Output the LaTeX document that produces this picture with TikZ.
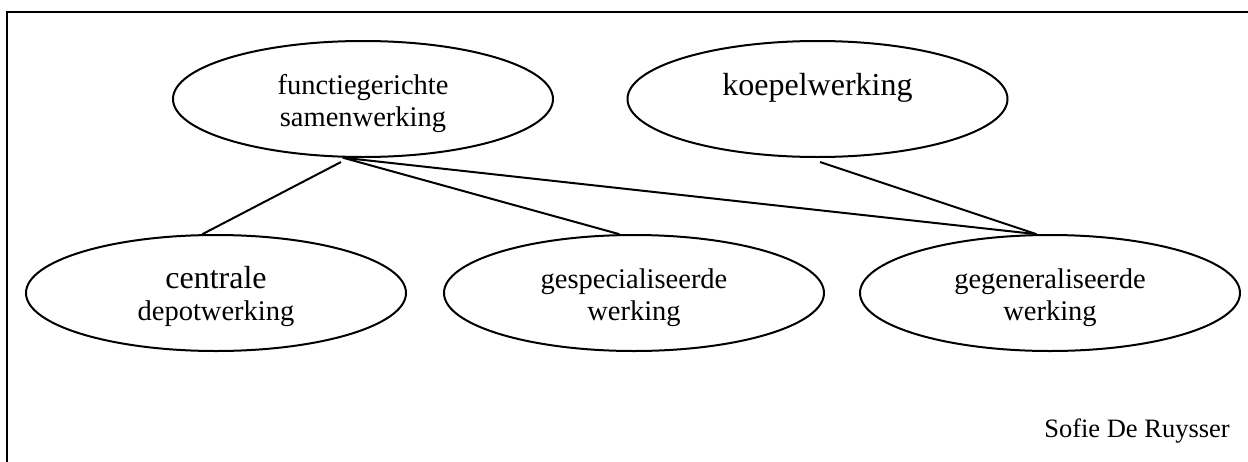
\documentclass[tikz,border=0pt]{standalone}
\usepackage{fontspec}
\setmainfont{Liberation Serif}
\usetikzlibrary{shapes.geometric,calc}
\begin{document}
\begin{tikzpicture}[x=1pt,y=-1pt,
  oval/.style={draw, ellipse, line width=2pt, minimum width=380pt,
    minimum height=116pt, inner sep=0pt, align=center,
    font=\fontsize{28.5}{32}\selectfont, text height=54pt, text depth=0pt},
  oneline/.style={text height=12pt, text depth=20pt},
  bigtext/.style={font=\fontsize{32}{32}\selectfont},
  link/.style={line width=2pt},
  frameline/.style={line width=2.2pt}]
\useasboundingbox (0,0) rectangle (1248,461);

% open frame: top and left edges only
\draw[frameline] (1250,12) -- (7,12) -- (7,463);

% upper row
\node[oval] (f) at (363,99) {functiegerichte\\samenwerking};
\node[oval, oneline, bigtext] (k) at (817.5,99) {koepelwerking};

% lower row
\node[oval] (c) at (216,293) {{\fontsize{32}{32}\selectfont centrale}\\depotwerking};
\node[oval] (g) at (634,293) {gespecialiseerde\\werking};
\node[oval] (h) at (1050,293) {gegeneraliseerde\\werking};

% connectors
\draw[link] ($(f.south)+(-22,4)$) -- (c.103);
\draw[link] (f.251) -- (g.104);
\draw[link] (f.251) -- (h.103);
\draw[link] ($(k.south)+(2.5,4)$) -- (h.103);

% signature
\node[font=\fontsize{26.5}{30}\selectfont, anchor=base, inner sep=0pt] (sig) at (1137,437) {Sofie De Ruysser};
\end{tikzpicture}
\end{document}
